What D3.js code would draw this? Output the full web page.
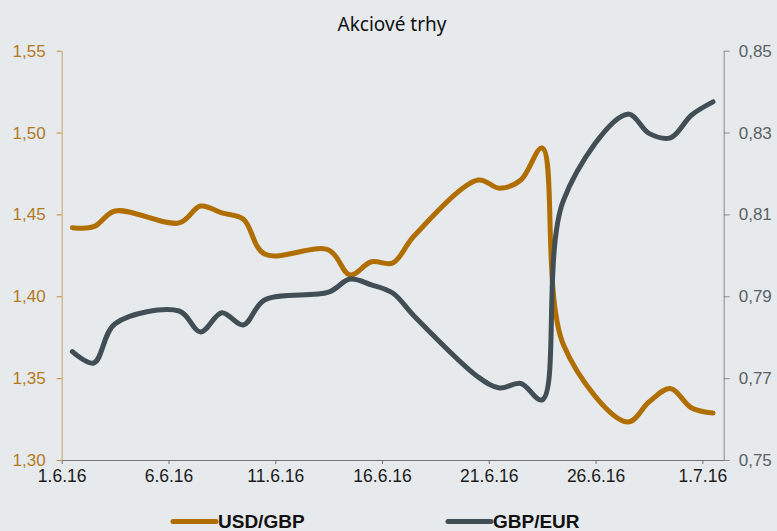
<!DOCTYPE html>
<html>
<head>
<meta charset="utf-8">
<script src="https://cdn.jsdelivr.net/npm/d3@7"></script>
<style>
  html, body { margin: 0; padding: 0; background: #e6eaed; }
  svg { display: block; }
</style>
</head>
<body>
<div id="chart"></div>
<script>
// Trading days, June 2016 (plotted at the middle of each day cell)
const dates = [
    '2016-06-01', '2016-06-02', '2016-06-03', '2016-06-06', '2016-06-07', '2016-06-08',
    '2016-06-09', '2016-06-10', '2016-06-13', '2016-06-14', '2016-06-15', '2016-06-16',
    '2016-06-17', '2016-06-20', '2016-06-21', '2016-06-22', '2016-06-23', '2016-06-24',
    '2016-06-27', '2016-06-28', '2016-06-29', '2016-06-30', '2016-07-01'
];

// USD/GBP (left axis)
const usdGbp = [
    1.4419, 1.4425, 1.4521, 1.4448, 1.4551, 1.4509,
    1.4472, 1.4258, 1.4283, 1.4130, 1.4211, 1.4203,
    1.4368, 1.4710, 1.4660, 1.4710, 1.4906, 1.3702,
    1.3232, 1.3354, 1.3437, 1.3318, 1.3287
];

// GBP/EUR (right axis)
const gbpEur = [
    0.7765, 0.7737, 0.7833, 0.7864, 0.7813, 0.7860,
    0.7830, 0.7891, 0.7910, 0.7942, 0.7928, 0.7908,
    0.7852, 0.7703, 0.7676, 0.7687, 0.7647, 0.8135,
    0.8345, 0.8298, 0.8287, 0.8343, 0.8375
];

const xTicks = ['2016-06-01', '2016-06-06', '2016-06-11', '2016-06-16', '2016-06-21', '2016-06-26', '2016-07-01'];
const leftTicks = [1.30, 1.35, 1.40, 1.45, 1.50, 1.55];
const rightTicks = [0.75, 0.77, 0.79, 0.81, 0.83, 0.85];

const title = 'Akciové trhy';
const seriesNames = ['USD/GBP', 'GBP/EUR'];
const colors = ['#b06e00', '#414e55'];

const width = 777, height = 531;
const margin = { top: 50.7, right: 53.3, bottom: 71, left: 61.7 };

const parse = d3.timeParse('%Y-%m-%d');
const mid = d => d3.timeHour.offset(parse(d), 12);

const svg = d3.select('#chart')
    .append('svg')
    .attr('width', width)
    .attr('height', height)
    .style('background', '#e6eaed');

const x = d3.scaleTime()
    .domain([parse('2016-06-01'), parse('2016-07-02')])
    .range([margin.left, width - margin.right]);

const yL = d3.scaleLinear()
    .domain([1.30, 1.55])
    .range([height - margin.bottom, margin.top]);

const yR = d3.scaleLinear()
    .domain([0.75, 0.85])
    .range([height - margin.bottom, margin.top]);

const comma = d => d3.format('.2f')(d).replace('.', ',');
const dayFmt = d => `${d.getDate()}.${d.getMonth() + 1}.${String(d.getFullYear()).slice(2)}`;

// Title
svg.append('text')
    .attr('x', 392)
    .attr('y', 31)
    .attr('text-anchor', 'middle')
    .attr('font-family', '"Noto Sans", sans-serif')
    .attr('font-size', '19px')
    .attr('fill', '#111')
    .text(title);

// Bottom axis
const gx = svg.append('g')
    .attr('transform', `translate(0,${height - margin.bottom})`)
    .call(d3.axisBottom(x)
        .tickValues(xTicks.map(parse))
        .tickFormat(dayFmt)
        .tickSize(4)
        .tickSizeOuter(0)
        .tickPadding(6));
gx.select('.domain').attr('stroke', '#6f7579');
gx.selectAll('.tick line').attr('stroke', '#6f7579');
gx.selectAll('.tick text')
    .attr('fill', '#1c1c1c')
    .attr('font-family', '"Liberation Sans", Arial, sans-serif')
    .attr('font-size', '17.5px');

// Left axis
const gl = svg.append('g')
    .attr('transform', `translate(${margin.left},0)`)
    .call(d3.axisLeft(yL)
        .tickValues(leftTicks)
        .tickFormat(comma)
        .tickSize(5)
        .tickSizeOuter(0)
        .tickPadding(11));
gl.select('.domain').attr('stroke', '#c9a66c');
gl.selectAll('.tick line').attr('stroke', '#c08a3a');
gl.selectAll('.tick text')
    .attr('fill', '#b47a22')
    .attr('font-family', '"Liberation Sans", Arial, sans-serif')
    .attr('font-size', '17px');

// Right axis
const gr = svg.append('g')
    .attr('transform', `translate(${width - margin.right},0)`)
    .call(d3.axisRight(yR)
        .tickValues(rightTicks)
        .tickFormat(comma)
        .tickSize(6)
        .tickSizeOuter(0)
        .tickPadding(9));
gr.select('.domain').attr('stroke', '#858d91');
gr.selectAll('.tick line').attr('stroke', '#858d91');
gr.selectAll('.tick text')
    .attr('fill', '#5a6266')
    .attr('font-family', '"Liberation Sans", Arial, sans-serif')
    .attr('font-size', '17px');

// Lines
const series = [
    { name: seriesNames[0], values: usdGbp, y: yL, color: colors[0] },
    { name: seriesNames[1], values: gbpEur, y: yR, color: colors[1] }
];

series.forEach(s => {
    const line = d3.line()
        .x((d, i) => x(mid(dates[i])))
        .y(d => s.y(d))
        .curve(d3.curveCatmullRom);

    svg.append('path')
        .datum(s.values)
        .attr('fill', 'none')
        .attr('stroke', s.color)
        .attr('stroke-width', 5)
        .attr('stroke-linecap', 'round')
        .attr('stroke-linejoin', 'round')
        .attr('d', line);
});

// Legend
const legendX = [173, 448];
const legend = svg.append('g');
series.forEach((s, i) => {
    legend.append('line')
        .attr('x1', legendX[i])
        .attr('x2', legendX[i] + 43)
        .attr('y1', 521.5)
        .attr('y2', 521.5)
        .attr('stroke', s.color)
        .attr('stroke-width', 5)
        .attr('stroke-linecap', 'round');
    legend.append('text')
        .attr('x', legendX[i] + 45)
        .attr('y', 528)
        .attr('font-family', '"Liberation Sans", Arial, sans-serif')
        .attr('font-weight', 'bold')
        .attr('font-size', '19px')
        .attr('fill', '#111')
        .text(s.name);
});
</script>
</body>
</html>
